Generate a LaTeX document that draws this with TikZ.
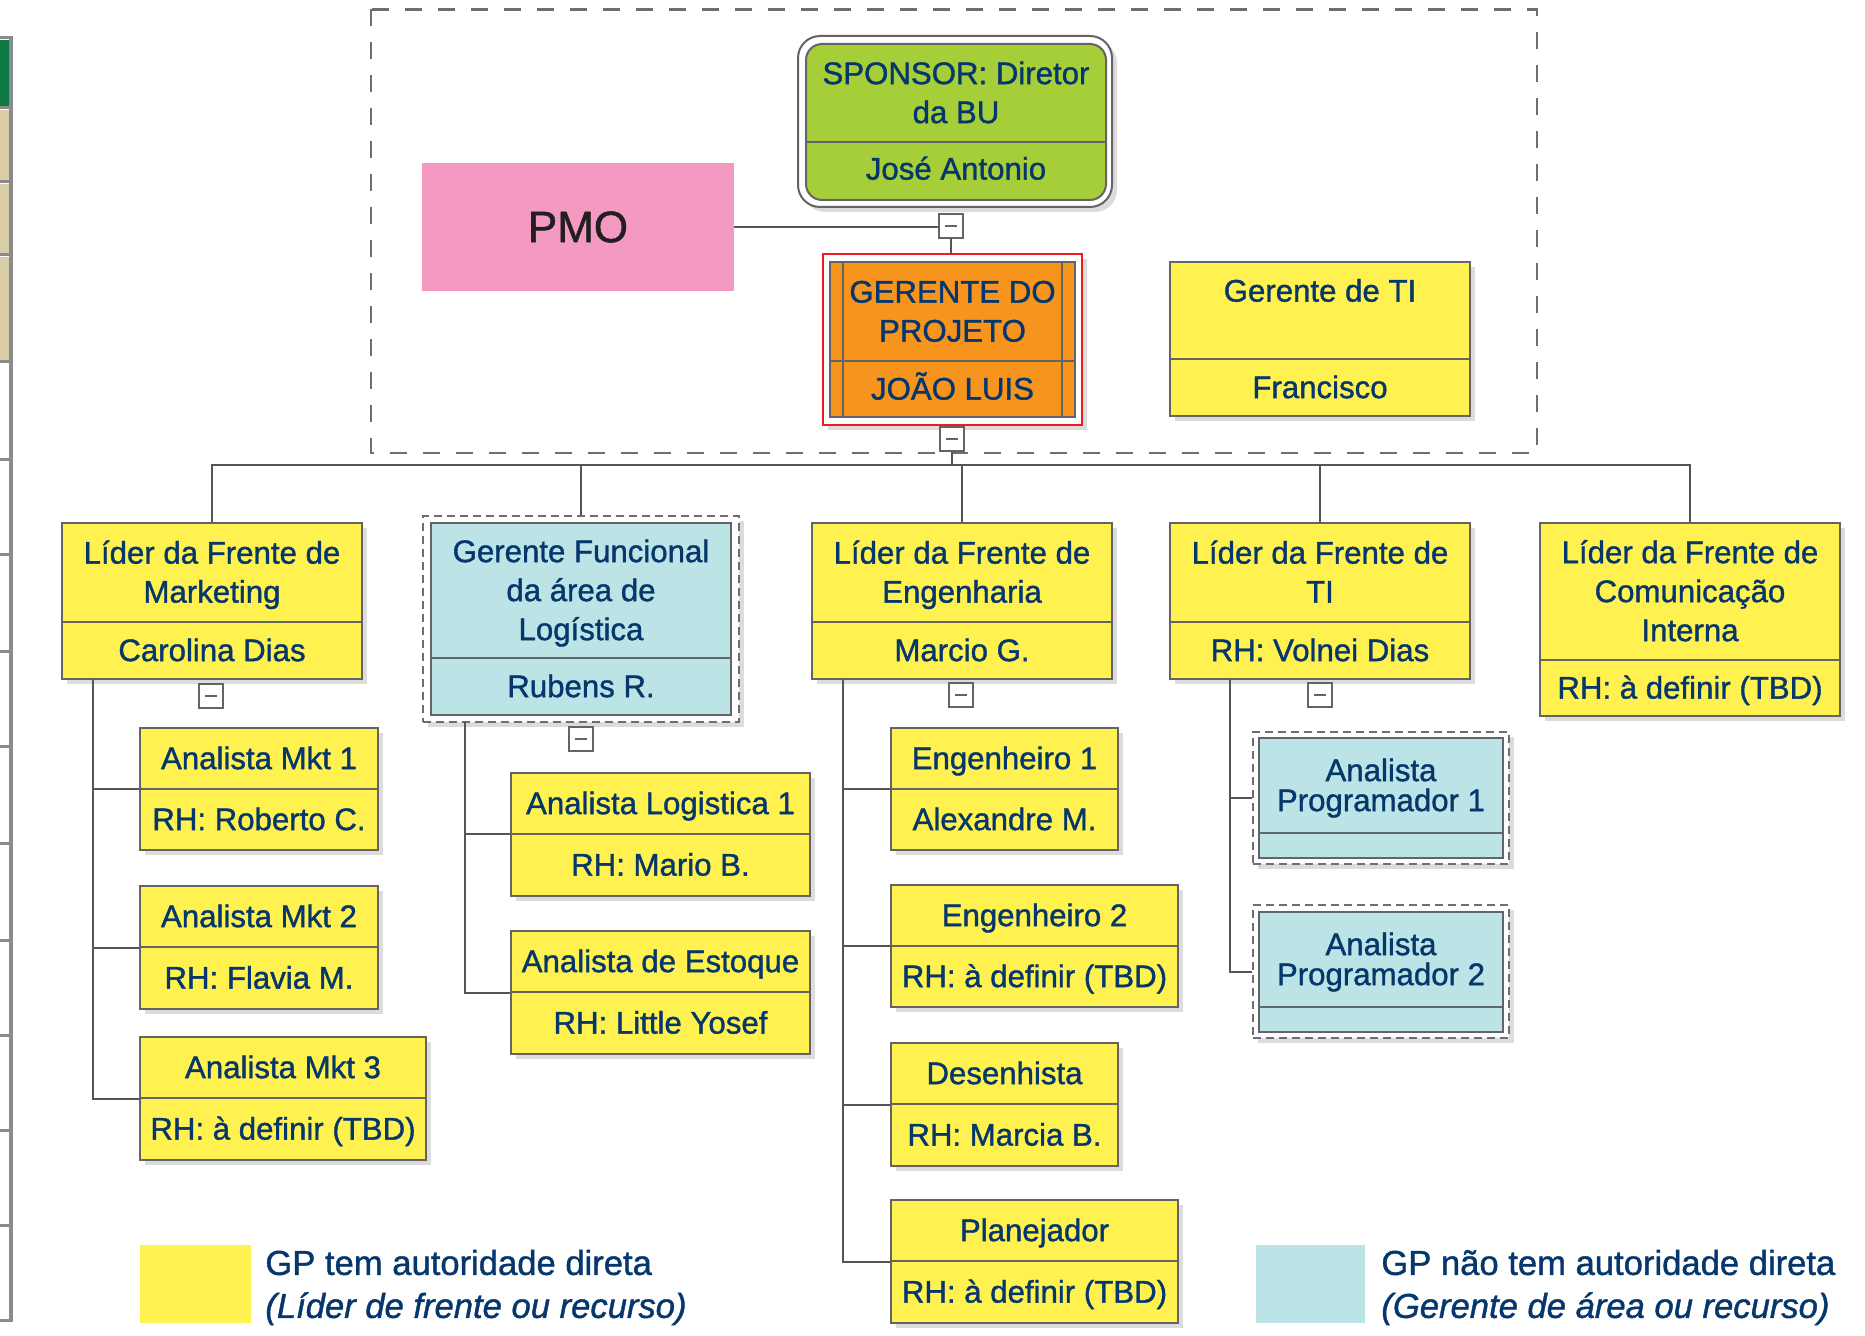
\documentclass[tikz,border=0pt]{standalone}
\usepackage{fontspec}
\setmainfont{Liberation Sans}[FakeBold=1.2]
\usetikzlibrary{shadows,calc}
\definecolor{navy}{RGB}{6,55,108}
\definecolor{boxgray}{RGB}{100,100,104}
\definecolor{linegray}{RGB}{85,85,88}
\definecolor{dashgray}{RGB}{110,110,112}
\definecolor{oyellow}{RGB}{255,241,80}
\definecolor{oblue}{RGB}{188,227,229}
\definecolor{ogreen}{RGB}{166,206,57}
\definecolor{oorange}{RGB}{247,148,30}
\definecolor{opink}{RGB}{244,154,194}
\definecolor{ored}{RGB}{237,28,36}
\definecolor{pmotext}{RGB}{35,31,32}
\definecolor{tgreen}{RGB}{14,122,67}
\definecolor{tbeige}{RGB}{217,205,168}
\definecolor{tgray}{RGB}{138,138,143}

% struts: first-line height and last-line depth, so that caps sit centred
\newcommand\sH{\rule{0pt}{14.6pt}}
\newcommand\sD{\rule[-4pt]{0pt}{4pt}}
\newcommand\lH{\rule{0pt}{16.6pt}}
\newcommand\lD{\rule[-4.2pt]{0pt}{4.2pt}}

\newcommand\obox[9]{%
  \pgfmathsetmacro\ocx{(#2+#4)/2}%
  \pgfmathsetmacro\ocy{(#3+#5)/2}%
  \pgfmathsetmacro\ow{(#4-#2)*0.5}%
  \pgfmathsetmacro\oh{(#5-#3)*0.5}%
  \pgfmathsetmacro\oty{(#3+#6)/2}%
  \pgfmathsetmacro\oby{(#6+#5)/2}%
  \node[orgbox, fill=#7, minimum width=\ow pt, minimum height=\oh pt] (#1) at (\ocx,\ocy) {};
  \draw[divline] (#2,#6) -- (#4,#6);
  \node[txt] (#1t) at (\ocx,\oty) {\sH#8\sD};
  \node[txt] (#1b) at (\ocx,\oby) {\sH#9\sD};
}
\newcommand\dbox[5]{%
  \pgfmathsetmacro\ocx{(#2+#4)/2}%
  \pgfmathsetmacro\ocy{(#3+#5)/2}%
  \pgfmathsetmacro\ow{(#4-#2)*0.5}%
  \pgfmathsetmacro\oh{(#5-#3)*0.5}%
  \node[dashedbox, minimum width=\ow pt, minimum height=\oh pt] (#1) at (\ocx,\ocy) {};
}
\newcommand\minusbox[3]{%
  \node[minusbx] (#1) at (#2,#3) {};
  \draw[line width=0.9pt, draw=boxgray] ([xshift=-3pt]#1.center) -- ([xshift=3pt]#1.center);
}

\begin{document}
\begin{tikzpicture}[x=0.5pt,y=-0.5pt,
  bshadow/.style={drop shadow={opacity=0.28,shadow xshift=2.5pt,shadow yshift=-2.5pt}},
  orgbox/.style={rectangle, draw=boxgray, line width=1pt, inner sep=0pt, bshadow},
  divline/.style={draw=boxgray, line width=1pt},
  txt/.style={text=navy, font=\fontsize{15.6}{19.5}\selectfont, align=center, inner sep=0pt},
  conn/.style={draw=linegray, line width=1pt},
  minusbx/.style={rectangle, draw=boxgray, fill=white, line width=1pt, minimum width=12pt, minimum height=12pt, inner sep=0pt},
  dashedbox/.style={rectangle, draw=dashgray, fill=white, line width=1.3pt, dash pattern=on 4pt off 2.5pt, inner sep=0pt, bshadow},
  legtxt/.style={text=navy, font=\fontsize{17.3}{21.5}\selectfont, align=left, anchor=west, inner sep=0pt},
]
\useasboundingbox (0,0) rectangle (1865,1336);

% ---- cropped table fragment on the left edge
\fill[tgreen] (0,40) rectangle (9,106);
\fill[tbeige] (0,110) rectangle (9,180);
\fill[tbeige] (0,184) rectangle (9,253);
\fill[tbeige] (0,257) rectangle (9,361);
\fill[tgray] (9,37) rectangle (12.5,1322);
\foreach \yy in {38,108,181.5,255,362,460,555,652,747,844,940,1035,1130,1225,1320}
  \fill[tgray] (0,\yy-1.5) rectangle (12.5,\yy+1.5);

% ---- dashed frame of the top group
\draw[draw=dashgray, line width=1.2pt, dash pattern=on 8.5pt off 8pt] (371,9.5) rectangle (1537,453);

% ---- PMO
\node[fill=opink, minimum width=156pt, minimum height=64pt, inner sep=0pt,
      text=pmotext, font=\fontsize{22}{26}\selectfont] (pmo) at (578,227) {PMO};

% ---- Sponsor
\node[rectangle, draw=boxgray, fill=white, line width=1pt, rounded corners=11pt,
      minimum width=157pt, minimum height=85.5pt, inner sep=0pt, bshadow] (sponsor) at (955,121.5) {};
\node[rectangle, draw=boxgray, fill=ogreen, line width=1pt, rounded corners=8pt,
      minimum width=150pt, minimum height=78pt, inner sep=0pt] (sponsorIn) at (956,122) {};
\draw[divline] (806,142) -- (1106,142);
\node[txt] (sponsorT) at (956,93) {\sH SPONSOR: Diretor\\da BU\sD};
\node[txt] (sponsorB) at (956,169) {\sH José Antonio\sD};

% ---- Gerente do projeto
\node[rectangle, draw=ored, fill=white, line width=1pt, minimum width=129.5pt, minimum height=85.5pt,
      inner sep=0pt, bshadow] (gerOut) at (952.5,339.5) {};
\begin{scope}[bshadow/.style={}]
\obox{ger}{830}{262}{1075}{417}{361}{oorange}{GERENTE DO\\PROJETO}{JOÃO LUIS}
\end{scope}
\draw[divline] (843,262) -- (843,417);
\draw[divline] (1062,262) -- (1062,417);

% ---- Gerente de TI
\obox{gti}{1170}{262}{1470}{416}{359}{oyellow}{Gerente de TI\\\mbox{}}{Francisco}

% ---- top connectors
\minusbox{mA}{951}{226}
\draw[conn] (pmo.east) -- (pmo.east -| mA.west);
\draw[conn] (mA.south) -- (mA.south |- gerOut.north);
\minusbox{mB}{952}{439}
\coordinate (busL) at (212,465);

% ---- level 2
\obox{mkt}{62}{523}{362}{679}{622}{oyellow}{Líder da Frente de\\Marketing}{Carolina Dias}
\dbox{logD}{423}{516}{739}{722}
\begin{scope}[bshadow/.style={}]
\obox{log}{431}{523}{731}{715}{658}{oblue}{Gerente Funcional\\da área de\\Logística}{Rubens R.}
\end{scope}
\obox{eng}{812}{523}{1112}{679}{622}{oyellow}{Líder da Frente de\\Engenharia}{Marcio G.}
\obox{lti}{1170}{523}{1470}{679}{622}{oyellow}{Líder da Frente de\\TI}{RH: Volnei Dias}
\obox{com}{1540}{523}{1840}{716}{660}{oyellow}{Líder da Frente de\\Comunicação\\Interna}{RH: à definir (TBD)}

\draw[conn] (mB.south) -- (mB.south |- busL);
\draw[conn] (mkt.north) -- (busL) -- (com.north |- busL) -- (com.north);
\draw[conn] (logD.north) -- (logD.north |- busL);
\draw[conn] (eng.north) -- (eng.north |- busL);
\draw[conn] (lti.north) -- (lti.north |- busL);

\minusbox{mMkt}{211}{696}
\minusbox{mLog}{581}{739}
\minusbox{mEng}{961}{695}
\minusbox{mTI}{1320}{695}

% ---- level 3: marketing
\obox{mk1}{140}{728}{378}{850}{789}{oyellow}{Analista Mkt 1}{RH: Roberto C.}
\obox{mk2}{140}{886}{378}{1009}{947}{oyellow}{Analista Mkt 2}{RH: Flavia M.}
\obox{mk3}{140}{1037}{426}{1160}{1098}{oyellow}{Analista Mkt 3}{RH: à definir (TBD)}
\coordinate (mktS) at (93,679);
\draw[conn] (mktS) |- (mk1.west);
\draw[conn] (mktS) |- (mk2.west);
\draw[conn] (mktS) |- (mk3.west);

% ---- level 3: logistica
\obox{lg1}{511}{773}{810}{896}{834}{oyellow}{Analista Logistica 1}{RH: Mario B.}
\obox{est}{511}{931}{810}{1054}{992}{oyellow}{Analista de Estoque}{RH: Little Yosef}
\coordinate (logS) at (465,722);
\draw[conn] (logS) |- (lg1.west);
\draw[conn] (logS) |- (est.west);

% ---- level 3: engenharia
\obox{en1}{891}{728}{1118}{850}{789}{oyellow}{Engenheiro 1}{Alexandre M.}
\obox{en2}{891}{885}{1178}{1007}{946}{oyellow}{Engenheiro 2}{RH: à definir (TBD)}
\obox{des}{891}{1043}{1118}{1166}{1104}{oyellow}{Desenhista}{RH: Marcia B.}
\obox{pla}{891}{1200}{1178}{1323}{1261}{oyellow}{Planejador}{RH: à definir (TBD)}
\coordinate (engS) at (843,679);
\draw[conn] (engS) |- (en1.west);
\draw[conn] (engS) |- (en2.west);
\draw[conn] (engS) |- (des.west);
\draw[conn] (engS) |- (pla.west);

% ---- level 3: TI
\dbox{ap1D}{1253}{732}{1509}{864}
\dbox{ap2D}{1253}{905}{1509}{1038}
\begin{scope}[bshadow/.style={}, txt/.append style={font=\fontsize{15.6}{15}\selectfont}]
\obox{ap1}{1259}{738}{1503}{858}{833}{oblue}{Analista\\Programador 1}{}
\obox{ap2}{1259}{912}{1503}{1032}{1007}{oblue}{Analista\\Programador 2}{}
\end{scope}
\coordinate (tiS) at (1230,679);
\draw[conn] (tiS) |- (ap1D.west);
\draw[conn] (tiS) |- (ap2D.west);

% ---- legend
\fill[oyellow] (140,1245) rectangle (251,1323);
\fill[oblue] (1256,1245) rectangle (1365,1323);
\node[legtxt] (legA) at (265,1284)
  {\lH GP tem autoridade direta\\\textit{(Líder de frente ou recurso)}\lD};
\node[legtxt] (legB) at (1381,1284)
  {\lH GP não tem autoridade direta\\\textit{(Gerente de área ou recurso)}\lD};
\end{tikzpicture}
\end{document}
